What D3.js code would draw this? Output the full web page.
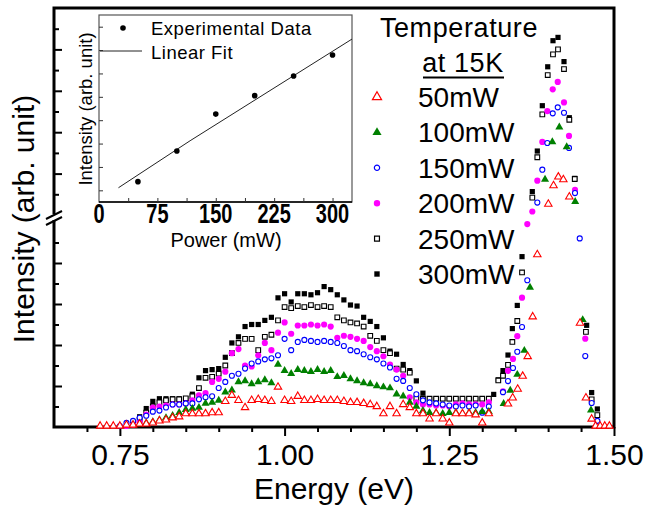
<!DOCTYPE html>
<html>
<head>
<meta charset="utf-8">
<script src="https://cdn.jsdelivr.net/npm/d3@7"></script>
<style>
body { margin: 0; background: #fff; }
text { font-family: "Liberation Sans", Arial, sans-serif; fill: #000; }
</style>
</head>
<body>
<svg id="chart" width="649" height="512"></svg>
<script>
// energies of the broad band (eV), shared by all series
const bandE = [0.72,0.73,0.74,0.75,0.76,0.77,0.78,0.79,0.80,0.81,
  0.82,0.83,0.84,0.85,0.86,0.87,0.88,0.89,0.90,0.91,
  0.92,0.93,0.94,0.95,0.96,0.97,0.98,0.99,1.00,1.01,
  1.02,1.03,1.04,1.05,1.06,1.07,1.08,1.09,1.10,1.11,
  1.12,1.13,1.14,1.15,1.16,1.17,1.18,1.19,1.20,1.21,
  1.22,1.23,1.24,1.25,1.26,1.27,1.28,1.29,1.30,1.31];

// band intensities (lower axis segment, 0-10)
const band300 = [null,null,null,null,null,0.1,0.5,0.9,1.25,1.38,
  1.38,1.38,1.38,1.38,1.6,2.4,2.75,2.8,2.85,3.4,
  4.1,4.4,4.9,5.0,5.0,5.2,5.35,6.3,6.5,6.1,
  6.5,6.5,6.45,6.55,6.85,6.7,6.45,6.2,5.95,5.9,
  5.35,5.15,4.9,4.35,3.7,3.55,3.05,2.75,2.25,1.65,
  1.38,1.38,1.38,1.38,1.38,1.38,1.38,1.38,1.38,1.38];
const band250 = [null,null,null,null,null,0.1,0.35,0.7,1.0,1.2,
  1.3,1.35,1.35,1.4,1.5,1.9,2.4,2.45,2.6,3.0,
  3.6,4.1,4.3,4.3,3.75,4.4,4.5,5.2,5.85,5.8,
  5.9,5.85,5.95,5.85,5.9,5.85,5.35,5.2,5.1,5.05,
  4.9,4.45,4.2,3.75,3.6,2.85,2.8,2.65,1.4,1.38,
  1.38,1.38,1.38,1.38,1.38,1.38,1.38,1.38,1.38,1.38];
const band200 = [null,null,null,null,0.05,0.1,0.25,0.6,0.95,1.0,
  1.05,1.1,1.1,1.15,1.3,1.55,1.65,2.2,2.35,2.7,
  3.6,3.8,3.0,2.95,3.5,4.1,3.75,4.6,5.1,4.55,
  4.95,4.95,5.0,4.95,5.0,4.9,4.35,4.45,4.4,4.3,
  4.2,3.9,3.7,3.45,3.05,2.8,2.5,1.45,1.2,1.1,
  1.1,1.05,1.05,1.0,1.1,1.15,1.1,1.1,1.1,1.2];
const band150 = [null,null,null,0.05,0.2,0.3,0.45,0.55,0.75,0.8,
  0.95,1.1,1.1,1.15,1.15,1.35,1.45,1.5,1.9,2.2,
  2.5,2.6,2.85,3.1,3.2,3.3,3.35,3.5,4.3,3.75,
  4.15,4.25,4.2,4.15,4.2,4.15,4.1,3.95,3.75,3.7,
  3.55,3.4,3.3,3.1,2.9,2.35,2.25,1.9,1.6,1.3,
  1.2,1.15,1.1,1.05,1.0,1.05,1.0,1.05,0.7,1.0];
const band100 = [null,null,null,null,null,0.1,0.15,0.2,0.25,0.35,
  0.45,0.55,0.7,0.85,0.9,0.95,1.15,1.2,1.3,1.7,
  1.8,2.2,2.25,2.1,2.2,2.3,2.15,3.05,2.75,2.6,
  2.8,2.75,2.7,2.8,2.7,2.75,2.45,2.5,2.35,2.25,
  2.15,2.1,2.0,1.95,1.9,1.6,1.5,1.2,1.0,0.8,
  0.7,0.7,0.65,0.7,0.7,0.65,0.7,0.7,0.75,0.75];
const band50 = [0.05,0.05,0.05,0.05,0.1,0.1,0.15,0.15,0.2,0.3,
  0.35,0.45,0.5,0.65,0.65,0.65,0.65,0.7,0.7,1.25,
  1.55,1.3,0.95,1.3,1.35,1.3,1.25,1.95,1.3,1.25,
  1.5,1.3,1.3,1.35,1.3,1.3,1.3,1.25,1.2,1.2,
  1.15,1.1,1.0,0.65,1.0,0.65,1.1,0.95,0.65,0.65,
  0.4,0.65,0.4,0.2,0.65,0.65,0.65,0.6,0.2,0.65];

// sharp peak near 1.41 eV (values above 10 sit on the compressed upper segment)
const peakE300 = [1.3174,1.3244,1.3315,1.3391,1.3457,1.3532,1.3604,1.3760,1.3836,1.3912,1.3994,1.4074,1.4150,1.4241,1.4322,1.4404,1.4585,1.4661,1.4747];
const peak300  = [1.59,2.3,2.75,3.51,4.8,5.93,8.31,21.3,40.9,62.8,81.6,94.2,95.8,84.1,57.0,27.7,4.96,1.68,0.88];
const peakE250 = [1.3244,1.3315,1.3391,1.3457,1.3532,1.3604,1.3760,1.3836,1.3912,1.3994,1.4074,1.4150,1.4241,1.4322,1.4404,1.4574,1.4661,1.4747];
const peak250  = [2.27,2.5,3.03,4.15,5.17,7.54,18.4,37.9,58.6,77.6,87.6,90.0,80.5,56.0,27.4,4.64,1.35,0.58];
const peakE200 = [1.3315,1.3391,1.3467,1.3532,1.3604,1.3684,1.3760,1.3836,1.3912,1.3988,1.4070,1.4146,1.4241,1.4317,1.4408,1.4564];
const peak200  = [1.74,2.74,3.32,4.43,6.31,9.9,11.7,26.6,45.3,60.2,70.7,74.3,64.4,48.2,22.1,4.31];
const peakE150 = [1.3315,1.3391,1.3467,1.3532,1.3604,1.3684,1.3836,1.3912,1.3988,1.4070,1.4146,1.4241,1.4317,1.4408,1.4480,1.4564,1.4661,1.4747];
const peak150  = [1.7,2.24,2.88,3.67,4.88,7.16,16.0,31.9,44.8,59.1,62.0,59.4,42.4,20.6,9.2,3.46,1.17,0.30];
const peakE100 = [1.3325,1.3426,1.3532,1.3639,1.3725,1.3953,1.4064,1.4170,1.4282,1.4411,1.4525,1.4651];
const peak100  = [1.14,1.79,2.56,3.73,6.81,27.2,45.3,52.4,42.9,16.4,5.23,0.82];
const peakE50  = [1.3391,1.3462,1.3538,1.3614,1.3690,1.3766,1.3836,1.4003,1.4082,1.4155,1.4231,1.4322,1.4484,1.4574,1.4661,1.4720,1.4790,1.4860,1.4930];
const peak50   = [1.13,1.42,1.85,2.48,3.44,5.38,8.41,15.3,24.2,28.4,27.1,18.8,5.07,1.42,0.39,0.05,0.05,0.05,0.05];

const seriesNames = ["50mW","100mW","150mW","200mW","250mW","300mW"];

// inset: integrated intensity vs excitation power
const powerMW = [50,100,150,200,250,300];
const insetIntensity = [0.37,1.68,3.26,4.05,4.89,5.79];
const fitPower = [25,117,325];
const fitIntensity = [0.11,2.12,6.47];

const svg = d3.select("#chart");

// main scales; y axis is broken at ~218px
const x = d3.scaleLinear().domain([0.65, 1.5]).range([54, 614]);
const yLow = d3.scaleLinear().domain([0, 10]).range([427, 222]);
const yHigh = d3.scaleLinear().domain([10, 110]).range([215, 8]);
function y(v) { return v <= 10 ? yLow(v) : yHigh(v); }

// frame
svg.append("rect")
  .attr("x", 54).attr("y", 8).attr("width", 560).attr("height", 419)
  .attr("fill", "none").attr("stroke", "#000").attr("stroke-width", 3);

// x ticks
const xMajor = svg.append("g").attr("transform", "translate(0,427)")
  .call(d3.axisBottom(x).tickValues([0.75, 1.0, 1.25, 1.5]).tickSize(9).tickPadding(8).tickFormat(d3.format(".2f")));
const xMinor = svg.append("g").attr("transform", "translate(0,427)")
  .call(d3.axisBottom(x).tickValues([0.70,0.80,0.85,0.90,0.95,1.05,1.10,1.15,1.20,1.30,1.35,1.40,1.45]).tickSize(5).tickFormat(""));

// y ticks (inward, alternating long / short)
const yTicks = [
  [yLow, [2,4,6,8], 8], [yLow, [1,3,5,7,9], 5],
  [yHigh, [30,50,70,90], 8], [yHigh, [20,40,60,80,100], 5]
];
yTicks.forEach(function (t) {
  svg.append("g").attr("class", "yt").attr("transform", "translate(54,0)")
    .call(d3.axisRight(t[0]).tickValues(t[1]).tickSize(t[2]).tickFormat(""));
});

svg.selectAll(".domain").remove();
svg.selectAll(".tick line").attr("stroke", "#000").attr("stroke-width", 2);
xMajor.selectAll("text").attr("font-size", 30);

// axis break marks
svg.append("rect").attr("x", 48).attr("y", 214).attr("width", 14).attr("height", 6).attr("fill", "#fff");
[[0], [6]].forEach(function (o) {
  svg.append("line")
    .attr("x1", 46).attr("y1", 219 + o[0]).attr("x2", 62).attr("y2", 211 + o[0])
    .attr("stroke", "#000").attr("stroke-width", 2);
});

// series, drawn 300mW first so 50mW ends on top
const styles = {
  "300mW": { shape: d3.symbolSquare,   size: 27, fill: "#000",    stroke: "none" },
  "250mW": { shape: d3.symbolSquare,   size: 22, fill: "#fff",    stroke: "#000" },
  "200mW": { shape: d3.symbolCircle,   size: 30, fill: "#ff00ff", stroke: "none" },
  "150mW": { shape: d3.symbolCircle,   size: 20, fill: "#fff",    stroke: "#0000ff" },
  "100mW": { shape: d3.symbolTriangle, size: 28, fill: "#008000", stroke: "none" },
  "50mW":  { shape: d3.symbolTriangle, size: 24, fill: "#fff",    stroke: "#ff0000" }
};
const seriesData = {
  "300mW": bandE.map((e, i) => [e, band300[i]]).concat(peakE300.map((e, i) => [e, peak300[i]])),
  "250mW": bandE.map((e, i) => [e, band250[i]]).concat(peakE250.map((e, i) => [e, peak250[i]])),
  "200mW": bandE.map((e, i) => [e, band200[i]]).concat(peakE200.map((e, i) => [e, peak200[i]])),
  "150mW": bandE.map((e, i) => [e, band150[i]]).concat(peakE150.map((e, i) => [e, peak150[i]])),
  "100mW": bandE.map((e, i) => [e, band100[i]]).concat(peakE100.map((e, i) => [e, peak100[i]])),
  "50mW":  bandE.map((e, i) => [e, band50[i]]).concat(peakE50.map((e, i) => [e, peak50[i]]))
};

seriesNames.slice().reverse().forEach(function (name) {
  const st = styles[name];
  svg.append("g").selectAll("path")
    .data(seriesData[name].filter(d => d[1] != null))
    .enter().append("path")
    .attr("transform", d => "translate(" + x(d[0]) + "," + y(d[1]) + ")")
    .attr("d", d3.symbol().type(st.shape).size(st.size))
    .attr("fill", st.fill)
    .attr("stroke", st.stroke)
    .attr("stroke-width", 1.1);
});

// axis titles
svg.append("text").attr("x", 334).attr("y", 499).attr("text-anchor", "middle")
  .attr("font-size", 30).text("Energy (eV)");
svg.append("text").attr("transform", "translate(34,219) rotate(-90)").attr("text-anchor", "middle")
  .attr("font-size", 30).text("Intensity (arb. unit)");

// legend
svg.append("text").attr("x", 459).attr("y", 37).attr("text-anchor", "middle")
  .attr("font-size", 27).attr("letter-spacing", 0.6).text("Temperature");
svg.append("text").attr("x", 463).attr("y", 72).attr("text-anchor", "middle")
  .attr("font-size", 27).attr("letter-spacing", 0.6).text("at 15K");
svg.append("line").attr("x1", 423).attr("x2", 504).attr("y1", 77.5).attr("y2", 77.5)
  .attr("stroke", "#000").attr("stroke-width", 2);

const legendY = d3.scalePoint().domain(seriesNames).range([97, 274]);
seriesNames.forEach(function (name) {
  const st = styles[name];
  svg.append("path")
    .attr("transform", "translate(377," + legendY(name) + ")")
    .attr("d", d3.symbol().type(st.shape).size(st.shape === d3.symbolTriangle ? 36 : st.size + 2))
    .attr("fill", st.fill).attr("stroke", st.stroke).attr("stroke-width", 1.2);
  svg.append("text").attr("x", 418).attr("y", legendY(name) + 10)
    .attr("font-size", 28).text(name);
});

// ---- inset ----
const xi = d3.scaleLinear().domain([0, 325]).range([99, 352]);
const yi = d3.scaleLinear().domain([-0.5, 7.5]).range([202, 15]);

svg.append("rect").attr("x", 99).attr("y", 15).attr("width", 253).attr("height", 187)
  .attr("fill", "#fff").attr("stroke", "#555").attr("stroke-width", 1.2);
svg.append("line").attr("x1", 99).attr("x2", 352).attr("y1", 202).attr("y2", 202)
  .attr("stroke", "#000").attr("stroke-width", 1.5);

const inL = svg.append("g").attr("transform", "translate(99,0)")
  .call(d3.axisRight(yi).tickValues([0,1,2,3,4,5,6,7]).tickSize(4).tickFormat(""));
const inB = svg.append("g").attr("transform", "translate(0,202)")
  .call(d3.axisTop(xi).tickValues([37.5,75,112.5,150,187.5,225,262.5,300]).tickSize(4).tickFormat(""));
inL.select(".domain").remove();
inB.select(".domain").remove();
inL.selectAll(".tick line").attr("stroke", "#333");
inB.selectAll(".tick line").attr("stroke", "#333");

svg.append("g").selectAll("text")
  .data([0, 75, 150, 225, 300])
  .enter().append("text")
  .attr("transform", d => "translate(" + xi(d) + ",223) scale(1,1.35)")
  .attr("text-anchor", "middle").attr("font-size", 20).attr("font-weight", "bold")
  .text(d => d);

svg.append("text").attr("x", 226).attr("y", 247).attr("text-anchor", "middle")
  .attr("font-size", 20).text("Power (mW)");
svg.append("text").attr("transform", "translate(92,109) rotate(-90)").attr("text-anchor", "middle")
  .attr("font-size", 18.5).text("Intensity (arb. unit)");

const fitLine = d3.line().x(d => xi(d[0])).y(d => yi(d[1]));
svg.append("path")
  .attr("d", fitLine(fitPower.map((p, i) => [p, fitIntensity[i]])))
  .attr("fill", "none").attr("stroke", "#222").attr("stroke-width", 1);

svg.append("g").selectAll("circle")
  .data(powerMW.map((p, i) => [p, insetIntensity[i]]))
  .enter().append("circle")
  .attr("cx", d => xi(d[0])).attr("cy", d => yi(d[1]))
  .attr("r", 2.8).attr("fill", "#000");

// inset legend
svg.append("circle").attr("cx", 123).attr("cy", 28).attr("r", 2.8).attr("fill", "#000");
svg.append("text").attr("x", 151).attr("y", 35).attr("font-size", 18.5).attr("letter-spacing", 0.5)
  .text("Experimental Data");
svg.append("line").attr("x1", 100).attr("x2", 142).attr("y1", 51).attr("y2", 51)
  .attr("stroke", "#222").attr("stroke-width", 1);
svg.append("text").attr("x", 151).attr("y", 59).attr("font-size", 18.5).attr("letter-spacing", 0.5)
  .text("Linear Fit");
</script>
</body>
</html>
